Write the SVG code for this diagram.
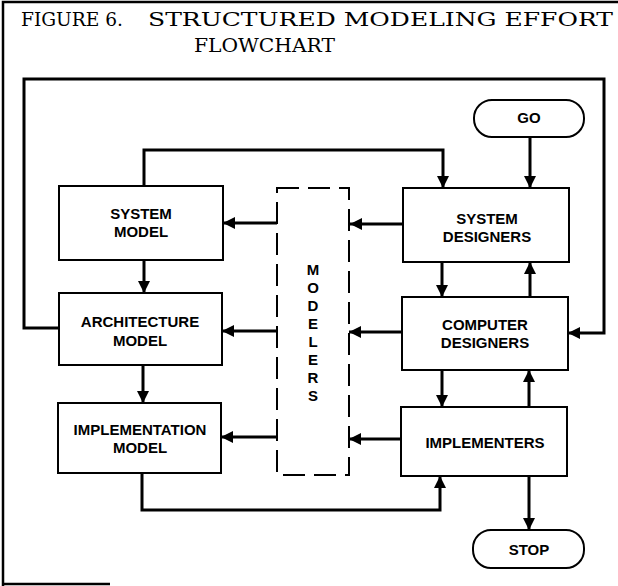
<svg xmlns="http://www.w3.org/2000/svg" width="618" height="586" viewBox="0 0 618 586">
<style>
.bg{fill:#fff}
.box{fill:#fff;stroke:#000;stroke-width:2}
.dash{fill:none;stroke:#000;stroke-width:2;stroke-dasharray:22 9}
.lbl{font-family:"Liberation Sans",Arial,sans-serif;font-weight:bold;font-size:15px;text-anchor:middle;fill:#000}
.title{font-family:"DejaVu Serif","Liberation Serif",serif;font-size:18px;fill:#000}
.con{fill:none;stroke:#000;stroke-width:3}
.border{fill:none;stroke:#000;stroke-width:2.5}
</style>
<defs>
<marker id="arr" markerUnits="userSpaceOnUse" markerWidth="13" markerHeight="13" refX="12" refY="6" orient="auto">
<path d="M0,0 L12,6 L0,12 z" fill="#000"/>
</marker>
</defs>
<rect class="bg" x="0" y="0" width="618" height="586"/>
<g id="page-border">
<path class="border" d="M3,586 V2 H618"/>
<path class="border" d="M3,584 H110"/>
</g>
<g id="title">
<text class="title" x="21" y="26" textLength="102" lengthAdjust="spacingAndGlyphs">FIGURE 6.</text>
<text class="title" x="148" y="26" textLength="465" lengthAdjust="spacingAndGlyphs">STRUCTURED MODELING EFFORT</text>
<text class="title" x="194" y="52" textLength="141" lengthAdjust="spacingAndGlyphs">FLOWCHART</text>
</g>
<g id="connectors">
<path class="con" d="M59,328 H24 V79 H604 V333 H568" marker-end="url(#arr)"/>
<path class="con" d="M144,186 V150 H443 V188" marker-end="url(#arr)"/>
<path class="con" d="M530,137 V188" marker-end="url(#arr)"/>
<path class="con" d="M403,224 H350" marker-end="url(#arr)"/>
<path class="con" d="M277,223 H223" marker-end="url(#arr)"/>
<path class="con" d="M144,260 V293" marker-end="url(#arr)"/>
<path class="con" d="M442,262 V297" marker-end="url(#arr)"/>
<path class="con" d="M530,297 V262" marker-end="url(#arr)"/>
<path class="con" d="M402,332 H349" marker-end="url(#arr)"/>
<path class="con" d="M277,331 H222" marker-end="url(#arr)"/>
<path class="con" d="M143,365 V403" marker-end="url(#arr)"/>
<path class="con" d="M442,370 V407" marker-end="url(#arr)"/>
<path class="con" d="M529,407 V370" marker-end="url(#arr)"/>
<path class="con" d="M401,439 H349" marker-end="url(#arr)"/>
<path class="con" d="M277,437 H221" marker-end="url(#arr)"/>
<path class="con" d="M142,473 V510 H440 V476" marker-end="url(#arr)"/>
<path class="con" d="M529,476 V530" marker-end="url(#arr)"/>
</g>
<g id="go">
<rect class="box" x="474" y="100" width="110" height="37" rx="18" ry="18"/>
<text class="lbl" x="529" y="123">GO</text>
</g>
<g id="stop">
<rect class="box" x="473" y="530" width="111" height="38" rx="18" ry="18"/>
<text class="lbl" x="529" y="555">STOP</text>
</g>
<g id="system-model">
<rect class="box" x="59" y="186" width="164" height="74"/>
<text class="lbl" x="141" y="219">SYSTEM</text>
<text class="lbl" x="141" y="237">MODEL</text>
</g>
<g id="architecture-model">
<rect class="box" x="59" y="293" width="163" height="72"/>
<text class="lbl" x="140" y="327">ARCHITECTURE</text>
<text class="lbl" x="140" y="346">MODEL</text>
</g>
<g id="implementation-model">
<rect class="box" x="58" y="403" width="163" height="70"/>
<text class="lbl" x="140" y="435">IMPLEMENTATION</text>
<text class="lbl" x="140" y="453">MODEL</text>
</g>
<g id="system-designers">
<rect class="box" x="403" y="188" width="166" height="74"/>
<text class="lbl" x="487" y="224">SYSTEM</text>
<text class="lbl" x="487" y="242">DESIGNERS</text>
</g>
<g id="computer-designers">
<rect class="box" x="402" y="297" width="166" height="73"/>
<text class="lbl" x="485" y="330">COMPUTER</text>
<text class="lbl" x="485" y="348">DESIGNERS</text>
</g>
<g id="implementers">
<rect class="box" x="401" y="407" width="166" height="69"/>
<text class="lbl" x="485" y="448">IMPLEMENTERS</text>
</g>
<g id="modelers">
<rect class="dash" x="277" y="188" width="72" height="287"/>
<text class="lbl" x="313" y="275">M</text>
<text class="lbl" x="313" y="293">O</text>
<text class="lbl" x="313" y="311">D</text>
<text class="lbl" x="313" y="329">E</text>
<text class="lbl" x="313" y="347">L</text>
<text class="lbl" x="313" y="365">E</text>
<text class="lbl" x="313" y="383">R</text>
<text class="lbl" x="313" y="401">S</text>
</g>
</svg>
